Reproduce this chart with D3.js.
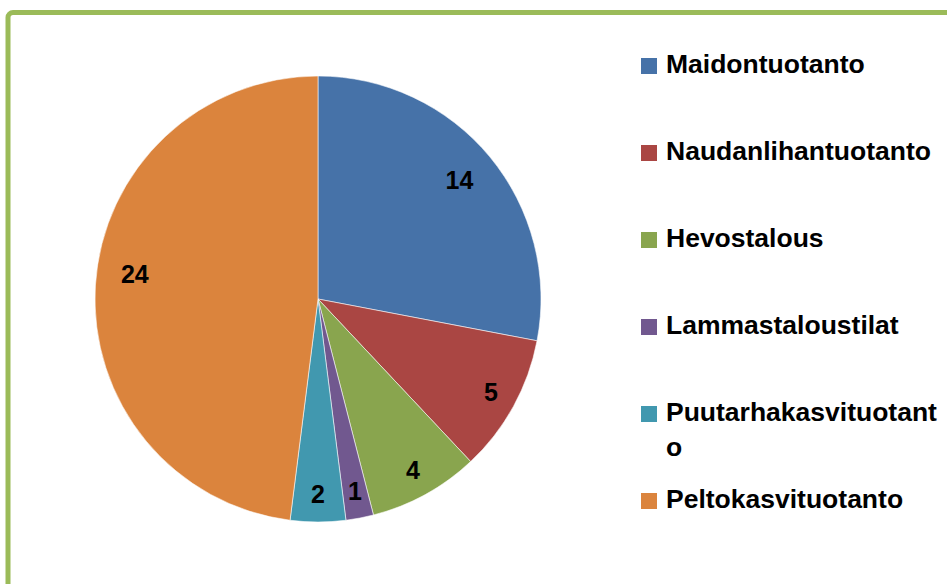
<script src="https://d3js.org/d3.v7.min.js"></script>
<style>
    body { margin: 0; background: #fff; }
</style>
<svg width="947" height="584"></svg>

<script>
    var width = 947;
    var height = 584;

    // data
    var categories = ['Maidontuotanto', 'Naudanlihantuotanto', 'Hevostalous',
        'Lammastaloustilat', 'Puutarhakasvituotanto', 'Peltokasvituotanto'];
    var values = [14, 5, 4, 1, 2, 24];
    var colors = ['#4672A8', '#AA4643', '#89A54E', '#71588F', '#4198AF', '#DB843D'];

    var cx = 318, cy = 299, radius = 223;
    var font = "'Liberation Sans', Arial, sans-serif";

    var svg = d3.select('svg')
        .attr('viewBox', [0, 0, width, height]);

    // chart frame (runs off the right and bottom edge)
    svg.append('rect')
        .attr('x', 8)
        .attr('y', 12.5)
        .attr('width', 1000)
        .attr('height', 700)
        .attr('rx', 5)
        .attr('fill', 'none')
        .attr('stroke', '#9BBB59')
        .attr('stroke-width', 5)

    var data = categories.map((c, i) => ({ name: c, value: values[i], color: colors[i] }))

    var pie = d3.pie()
        .sort(null)
        .value(d => d.value)

    var arc = d3.arc()
        .innerRadius(0)
        .outerRadius(radius)

    var labelArc = d3.arc()
        .innerRadius(radius * 0.885)
        .outerRadius(radius * 0.885)

    var g = svg.append('g')
        .attr('transform', `translate(${cx},${cy})`)

    var arcs = pie(data)

    g.selectAll('path')
        .data(arcs)
        .join('path')
        .attr('d', arc)
        .attr('fill', d => d.data.color)
        .attr('stroke', '#fff')
        .attr('stroke-opacity', 0.7)
        .attr('stroke-width', 0.8)

    g.selectAll('text')
        .data(arcs)
        .join('text')
        .attr('transform', d => {
            var p = labelArc.centroid(d)
            // big slices sit a bit further in, like excel's best fit
            var k = d.data.value > 10 ? 0.93 : 1
            var nudge = d.data.value > 10 && p[0] < 0 ? -13 : -2
            return `translate(${p[0] * k},${p[1] * k + nudge})`
        })
        .attr('text-anchor', 'middle')
        .attr('dy', '0.36em')
        .attr('font-family', font)
        .attr('font-weight', 'bold')
        .attr('font-size', 25)
        .attr('fill', '#000')
        .text(d => d.data.value)

    // legend
    var legX = 641, legTop = 73, legStep = 87, legMax = 272
    var legend = svg.append('g')
        .attr('font-family', font)
        .attr('font-weight', 'bold')
        .attr('font-size', 26.5)

    data.forEach((d, i) => {
        var y = legTop + i * legStep
        legend.append('rect')
            .attr('x', legX)
            .attr('y', y - 15)
            .attr('width', 16)
            .attr('height', 16)
            .attr('fill', d.color)

        var t = legend.append('text')
            .attr('x', legX + 25)
            .attr('y', y)
            .attr('fill', '#000')

        // wrap by characters when the name is too wide
        var lines = [], cur = ''
        var probe = legend.append('text').attr('visibility', 'hidden')
        for (var ch of d.name) {
            probe.text(cur + ch)
            if (probe.node().getComputedTextLength() > legMax && cur) {
                lines.push(cur)
                cur = ch
            } else {
                cur += ch
            }
        }
        lines.push(cur)
        probe.remove()

        lines.forEach((l, j) => {
            t.append('tspan')
                .attr('x', legX + 25)
                .attr('dy', j ? 35 : 0)
                .text(l)
        })
    })
</script>
